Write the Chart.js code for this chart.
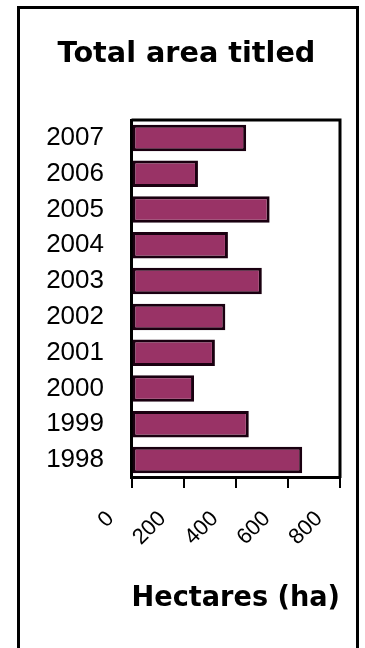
<!DOCTYPE html>
<html>
<head>
<meta charset="utf-8">
<script src="https://cdn.jsdelivr.net/npm/chart.js@4/dist/chart.umd.min.js"></script>
<style>
  html, body { margin: 0; padding: 0; background: #ffffff; }
  body { width: 365px; height: 648px; position: relative; overflow: hidden; }
  #frame { position: absolute; left: 17px; top: 6px; width: 336px; height: 660px;
           border: 3px solid #000; box-sizing: content-box; }
  #wrap { position: absolute; left: 8px; top: 0; width: 357px; height: 648px; }
</style>
</head>
<body>
<div id="frame"></div>
<div id="wrap"><canvas id="c" width="357" height="648"></canvas></div>
<script>
const years = ['2007', '2006', '2005', '2004', '2003', '2002', '2001', '2000', '1999', '1998'];
const hectares = [440, 255, 530, 370, 500, 360, 320, 240, 450, 655];
const xTicks = [0, 200, 400, 600, 800];
const chartTitle = 'Total area titled';
const xAxisTitle = 'Hectares (ha)';

const plotFrame = {
  id: 'plotFrame',
  afterDatasetsDraw(chart) {
    const a = chart.chartArea, ctx = chart.ctx;
    ctx.save();
    ctx.strokeStyle = '#000';
    ctx.lineWidth = 3;
    ctx.beginPath();
    ctx.moveTo(a.left, a.top);
    ctx.lineTo(a.right, a.top);
    ctx.lineTo(a.right, a.bottom);
    ctx.stroke();
    ctx.restore();
  }
};

new Chart(document.getElementById('c'), {
  type: 'bar',
  data: {
    labels: years,
    datasets: [{
      data: hectares,
      backgroundColor: '#993366',
      borderColor: '#1a0010',
      borderWidth: 3,
      borderSkipped: false,
      barPercentage: 0.74,
      categoryPercentage: 1
    }]
  },
  options: {
    indexAxis: 'y',
    responsive: false,
    animation: false,
    layout: { padding: { left: 8, right: 8, top: 37, bottom: 28 } },
    plugins: {
      legend: { display: false },
      tooltip: { enabled: false },
      title: {
        display: true,
        text: chartTitle,
        color: '#000',
        font: { family: 'DejaVu Sans', weight: 'bold', size: 28.7 },
        padding: { top: 0, bottom: 48.6 }
      }
    },
    scales: {
      x: {
        min: 0, max: 800,
        afterBuildTicks(scale) { scale.ticks = xTicks.map(v => ({ value: v })); },
        afterFit(scale) { scale.paddingRight = 25; scale.paddingLeft = 0; },
        grid: { drawOnChartArea: false, drawTicks: true, tickLength: 10, color: '#000', lineWidth: 2 },
        border: { display: true, color: '#000', width: 3 },
        ticks: {
          color: '#000',
          font: { family: 'Liberation Sans', size: 22 },
          minRotation: 45, maxRotation: 45,
          padding: 18,
          labelOffset: -21
        },
        title: {
          display: true,
          text: xAxisTitle,
          color: '#000',
          font: { family: 'DejaVu Sans', weight: 'bold', size: 28.5 },
          padding: { top: 13.2, bottom: 4 }
        }
      },
      y: {
        afterFit(scale) { scale.width = 115.5; },
        grid: { display: false, drawTicks: false },
        border: { display: true, color: '#000', width: 3 },
        ticks: {
          color: '#000',
          font: { family: 'Liberation Sans', size: 26 },
          padding: 27.5
        }
      }
    }
  },
  plugins: [plotFrame]
});
</script>
</body>
</html>
